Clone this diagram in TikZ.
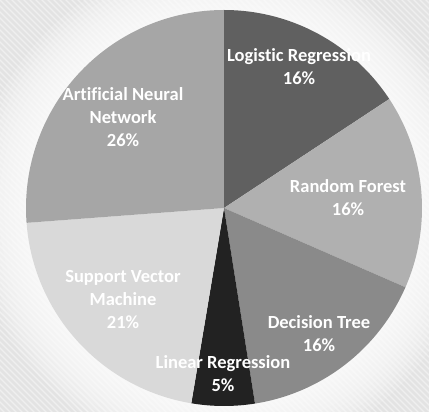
\documentclass[tikz,border=0pt]{standalone}
\usepackage{fontspec}
\setmainfont{Carlito}[Ligatures=NoCommon]
\usepackage{tikz}
\usetikzlibrary{positioning}

\definecolor{bgcol}{HTML}{E3E3E3}
\definecolor{lrcol}{HTML}{606060}
\definecolor{rfcol}{HTML}{B0B0B0}
\definecolor{dtcol}{HTML}{8A8A8A}
\definecolor{lincol}{HTML}{222222}
\definecolor{svmcol}{HTML}{D9D9D9}
\definecolor{anncol}{HTML}{A6A6A6}

\begin{document}
\begin{tikzpicture}[
    x=1pt, y=1pt,
    lbl/.style={align=center, text=white, font=\fontsize{18.5}{23}\selectfont\bfseries, inner sep=0pt},
    glow/.style={fill=white, fill opacity=0.14, draw=none}
]

% Background
\useasboundingbox (-224,-204) rectangle (205,208);
\fill[bgcol] (-224,-204) rectangle (205,208);
\begin{scope}
\clip (-224,-204) rectangle (205,208);
\foreach \k in {-700,-694,...,700}
  \draw[white, opacity=0.45, line width=1.2pt] (\k-300,300) -- (\k+300,-300);
\end{scope}
\foreach \r in {250,245,...,200}
  \fill[glow] (0,0) circle[radius=\r];

% Slices
\fill[lrcol]  (0,0) -- (90:198)    arc[start angle=90,    end angle=33.4,   radius=198] -- cycle;
\fill[rfcol]  (0,0) -- (33.4:198)  arc[start angle=33.4,  end angle=-23.6,  radius=198] -- cycle;
\fill[dtcol]  (0,0) -- (-23.6:198) arc[start angle=-23.6, end angle=-81,    radius=198] -- cycle;
\fill[lincol] (0,0) -- (-81:198)   arc[start angle=-81,   end angle=-99.5,  radius=198] -- cycle;
\fill[svmcol] (0,0) -- (-99.5:198) arc[start angle=-99.5, end angle=-175.7, radius=198] -- cycle;
\fill[anncol] (0,0) -- (184.3:198) arc[start angle=184.3, end angle=90,     radius=198] -- cycle;

% Labels
\node[lbl] (lr)  at (75,141)   {Logistic Regression\\16\%};
\node[lbl] (rf)  at (124,10)   {Random Forest\\16\%};
\node[lbl] (dt)  at (95,-126)  {Decision Tree\\16\%};
\node[lbl] (lin) at (-1,-166)  {Linear Regression\\5\%};
\node[lbl] (svm) at (-101,-92) {Support Vector\\Machine\\21\%};
\node[lbl] (ann) at (-101,91)  {Artificial Neural\\Network\\26\%};

\end{tikzpicture}
\end{document}
